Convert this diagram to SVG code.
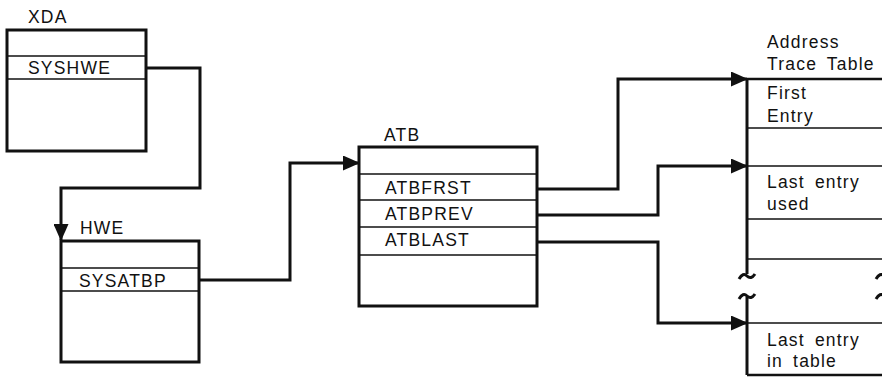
<svg xmlns="http://www.w3.org/2000/svg" width="882" height="378" viewBox="0 0 882 378">
<style>
text{font-family:"Liberation Sans",Arial,sans-serif;font-size:17.5px;fill:#111;letter-spacing:1.2px;word-spacing:4px}
.box{fill:#fff;stroke:#111;stroke-width:3}
.div{stroke:#111;stroke-width:1.6;fill:none}
.conn{stroke:#111;stroke-width:3;fill:none}
.til{stroke:#111;stroke-width:3;fill:none}
</style>
<defs>
<marker id="arr" markerUnits="userSpaceOnUse" markerWidth="17" markerHeight="15" refX="16" refY="7.5" orient="auto">
<path d="M0,0 L17,7.5 L0,15 Z" fill="#111"/>
</marker>
</defs>
<g id="connectors">
<path class="conn" d="M146,68 H200 V188 H61 V240" marker-end="url(#arr)"/>
<path class="conn" d="M199,280 H290 V163 H359" marker-end="url(#arr)"/>
<path class="conn" d="M537,189 H618 V79 H747" marker-end="url(#arr)"/>
<path class="conn" d="M537,215 H658 V166 H747" marker-end="url(#arr)"/>
<path class="conn" d="M537,242 H658 V323 H747" marker-end="url(#arr)"/>
</g>
<g id="XDA">
<text x="28" y="23">XDA</text>
<rect class="box" x="7" y="30" width="139" height="121"/>
<line class="div" x1="7" y1="56" x2="146" y2="56"/>
<line class="div" x1="7" y1="79" x2="146" y2="79"/>
<text x="28" y="74">SYSHWE</text>
</g>
<g id="HWE">
<text x="80" y="234">HWE</text>
<rect class="box" x="61" y="241" width="138" height="121"/>
<line class="div" x1="61" y1="268" x2="199" y2="268"/>
<line class="div" x1="61" y1="291" x2="199" y2="291"/>
<text x="79" y="287">SYSATBP</text>
</g>
<g id="ATB">
<text x="384" y="141">ATB</text>
<rect class="box" x="359" y="147" width="178" height="159"/>
<line class="div" x1="359" y1="174" x2="537" y2="174"/>
<line class="div" x1="359" y1="200" x2="537" y2="200"/>
<line class="div" x1="359" y1="227" x2="537" y2="227"/>
<line class="div" x1="359" y1="255" x2="537" y2="255"/>
<text x="385" y="194">ATBFRST</text>
<text x="385" y="220">ATBPREV</text>
<text x="385" y="246">ATBLAST</text>
</g>
<g id="AddressTraceTable">
<text x="767" y="48">Address</text>
<text x="767" y="70">Trace Table</text>
<line class="conn" x1="747" y1="79" x2="747" y2="274"/>
<line class="conn" x1="747" y1="297" x2="747" y2="375"/>
<line class="div" x1="747" y1="79" x2="882" y2="79" style="stroke-width:2.5"/>
<line class="div" x1="747" y1="128" x2="882" y2="128"/>
<line class="div" x1="747" y1="166" x2="882" y2="166"/>
<line class="div" x1="747" y1="219" x2="882" y2="219"/>
<line class="div" x1="747" y1="259" x2="882" y2="259"/>
<line class="div" x1="747" y1="323" x2="882" y2="323"/>
<line class="div" x1="747" y1="375" x2="882" y2="375" style="stroke-width:2.5"/>
<path class="til" d="M739,279 Q743,272 747,276 T755,274"/>
<path class="til" d="M739,299 Q743,292 747,296 T755,294"/>
<path class="til" d="M876,279 Q880,272 884,276"/>
<path class="til" d="M876,299 Q880,292 884,296"/>
<text x="767" y="99">First</text>
<text x="767" y="122">Entry</text>
<text x="767" y="188">Last entry</text>
<text x="767" y="210">used</text>
<text x="767" y="346">Last entry</text>
<text x="767" y="367">in table</text>
</g>
</svg>
